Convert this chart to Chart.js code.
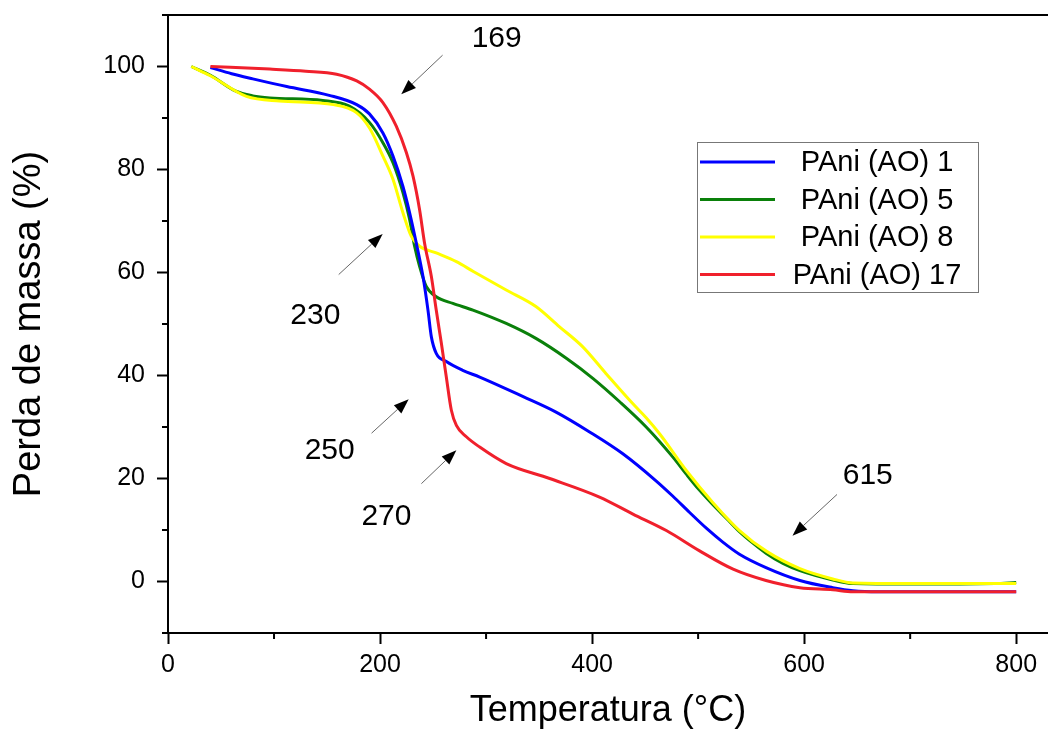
<!DOCTYPE html>
<html>
<head>
<meta charset="utf-8">
<script src="https://cdn.jsdelivr.net/npm/chart.js@4"></script>
<style>
  body { margin: 0; background: #fff; }
  canvas { display: block; }
</style>
</head>
<body>
<canvas id="tga" width="1048" height="729"></canvas>
<script>
// data (temperature °C, mass %)
const seriesNames = ["PAni (AO) 1", "PAni (AO) 5", "PAni (AO) 8", "PAni (AO) 17"];
const seriesColors = ["#0000ff", "#0a800a", "#ffff00", "#f0202c"];

const tempAO1 = [40, 60, 80, 112, 152, 178, 190, 202.7, 212.2, 221.6, 227.9, 234.2, 240.5, 245.2, 248.4, 253, 262.5, 278, 294, 335, 366, 398, 429, 460, 476, 492, 508, 523, 539, 564, 596, 627, 646, 670, 800];
const massAO1 = [99.8, 98.6, 97.6, 96.1, 94.4, 92.6, 90.8, 87.1, 82.6, 76.7, 71.6, 65.7, 59.2, 52.7, 47.5, 44.3, 42.7, 41.0, 39.7, 35.9, 32.9, 29.0, 24.8, 19.6, 16.6, 13.4, 10.3, 7.7, 5.3, 2.7, 0.2, -1.2, -1.8, -2.0, -2.0];

const tempAO5 = [22, 40, 64, 80, 96, 146, 171, 190.2, 202.7, 212.2, 221.6, 227.9, 232.6, 237.3, 243.6, 253, 268.7, 287.6, 319, 347, 376, 401, 426, 451, 476, 489, 501, 514, 527, 539, 552, 564, 580, 596, 627, 646, 700, 780, 800];
const massAO5 = [100, 98.3, 95.2, 94.3, 93.9, 93.4, 92.3, 89.1, 85.2, 81.3, 75.5, 70.3, 65.1, 61.2, 57.3, 55.3, 54.0, 52.7, 50.1, 47.2, 43.3, 39.4, 34.9, 30.0, 24.2, 20.8, 17.8, 14.9, 12.2, 9.7, 7.4, 5.5, 3.5, 2.1, 0.3, -0.4, -0.5, -0.4, -0.2];

const tempAO8 = [22, 40, 74, 105, 156, 178, 190.2, 202.7, 212.2, 221.6, 229.5, 237.3, 253, 272, 288, 319, 347, 369, 391, 413, 438.5, 451, 464, 489, 514, 539, 565, 596, 627, 646, 700, 800];
const massAO8 = [100, 98.2, 94.2, 93.3, 92.6, 91.0, 88.0, 82.6, 78.1, 71.6, 67.0, 65.1, 63.8, 62.1, 60.2, 56.6, 53.4, 49.5, 45.6, 40.4, 34.5, 31.8, 28.6, 21.5, 15.3, 9.9, 5.8, 2.5, 0.5, -0.3, -0.4, -0.4];

const tempAO17 = [40, 96, 130, 159, 178, 190, 202.7, 215.3, 224.8, 231.1, 237.3, 242, 248.4, 253, 257.8, 262.5, 267.2, 272, 281.4, 294, 319, 360, 407, 438.5, 470, 501, 533, 564, 596, 627, 646, 800];
const massAO17 = [100, 99.5, 99.1, 98.5, 97.2, 95.6, 93.0, 88.4, 83.3, 78.7, 72.2, 65.7, 59.2, 52.7, 46.3, 39.7, 33.3, 30.3, 28.1, 26.1, 22.9, 20.0, 16.4, 13.1, 9.9, 6.0, 2.4, 0.2, -1.2, -1.6, -2.0, -2.0];

const xTicks = [0, 200, 400, 600, 800];
const xMinor = [100, 300, 500, 700];
const yTicks = [0, 20, 40, 60, 80, 100];
const yMinor = [-10, 10, 30, 50, 70, 90, 110];

// arrows: label, text position, arrow tail, arrow tip (data units)
const notes = [
  { text: "169", at: [310, 105.3], from: [259, 102.2], to: [220, 94.6] },
  { text: "230", at: [139, 51.6], from: [161, 59.6], to: [202.5, 67.5] },
  { text: "250", at: [152.5, 25.3], from: [192, 28.8], to: [227, 35.4] },
  { text: "270", at: [206, 12.6], from: [239, 19.0], to: [272, 25.5] },
  { text: "615", at: [660, 20.6], from: [631, 16.9], to: [589, 8.9] }
];

const FONT = "'Liberation Sans', Arial, sans-serif";

function toPoints(t, m) {
  return t.map((v, i) => ({ x: v, y: m[i] }));
}

// lower order is drawn on top: red, blue, yellow, green
const datasets = [
  { label: seriesNames[0], data: toPoints(tempAO1, massAO1), borderColor: seriesColors[0], order: 1 },
  { label: seriesNames[1], data: toPoints(tempAO5, massAO5), borderColor: seriesColors[1], order: 3 },
  { label: seriesNames[2], data: toPoints(tempAO8, massAO8), borderColor: seriesColors[2], order: 2 },
  { label: seriesNames[3], data: toPoints(tempAO17, massAO17), borderColor: seriesColors[3], order: 0 }
];

// frame top line, minor ticks, arrows and boxed legend
const extras = {
  id: "extras",
  afterDraw(chart) {
    const c = chart.ctx;
    const a = chart.chartArea;
    const xs = chart.scales.x;
    const ys = chart.scales.y;

    c.save();
    c.strokeStyle = "#000";
    c.lineWidth = 2;
    c.beginPath();
    c.moveTo(a.left, a.top);
    c.lineTo(a.right, a.top);
    yMinor.forEach(v => {
      const y = ys.getPixelForValue(v);
      c.moveTo(a.left - 6, y);
      c.lineTo(a.left, y);
    });
    xMinor.forEach(v => {
      const x = xs.getPixelForValue(v);
      c.moveTo(x, a.bottom);
      c.lineTo(x, a.bottom + 6);
    });
    c.stroke();

    // annotations
    c.font = "30px " + FONT;
    c.fillStyle = "#000";
    c.textAlign = "center";
    c.textBaseline = "middle";
    notes.forEach(n => {
      c.fillText(n.text, xs.getPixelForValue(n.at[0]), ys.getPixelForValue(n.at[1]));
      const x0 = xs.getPixelForValue(n.from[0]), y0 = ys.getPixelForValue(n.from[1]);
      const x1 = xs.getPixelForValue(n.to[0]), y1 = ys.getPixelForValue(n.to[1]);
      const ang = Math.atan2(y1 - y0, x1 - x0);
      const len = 15, half = 5.5;
      c.strokeStyle = "#666";
      c.lineWidth = 1;
      c.beginPath();
      c.moveTo(x0, y0);
      c.lineTo(x1 - Math.cos(ang) * len, y1 - Math.sin(ang) * len);
      c.stroke();
      c.beginPath();
      c.moveTo(x1, y1);
      c.lineTo(x1 - Math.cos(ang) * len - Math.sin(ang) * half, y1 - Math.sin(ang) * len + Math.cos(ang) * half);
      c.lineTo(x1 - Math.cos(ang) * len + Math.sin(ang) * half, y1 - Math.sin(ang) * len - Math.cos(ang) * half);
      c.closePath();
      c.fill();
    });

    // legend
    c.strokeStyle = "#777";
    c.lineWidth = 1;
    c.strokeRect(697.5, 142.5, 281, 150);
    c.font = "29px " + FONT;
    chart.data.datasets.forEach((ds, i) => {
      const y = 162 + i * 37.5;
      c.strokeStyle = ds.borderColor;
      c.lineWidth = 3;
      c.beginPath();
      c.moveTo(700, y);
      c.lineTo(775, y);
      c.stroke();
      c.fillStyle = "#000";
      c.fillText(ds.label, 877, y + 1);
    });
    c.restore();
  }
};

new Chart(document.getElementById("tga"), {
  type: "line",
  data: { datasets: datasets },
  options: {
    responsive: false,
    animation: false,
    layout: { padding: { top: 15, right: 0, left: 0, bottom: 0 } },
    plugins: { legend: { display: false }, tooltip: { enabled: false } },
    elements: {
      point: { radius: 0 },
      line: { borderWidth: 3, cubicInterpolationMode: "monotone", fill: false }
    },
    scales: {
      x: {
        type: "linear",
        min: 0,
        max: 830,
        afterBuildTicks: s => { s.ticks = xTicks.map(v => ({ value: v })); },
        afterFit: s => { s.height = 96; s.paddingLeft = 0; s.paddingRight = 0; },
        grid: { drawOnChartArea: false, tickLength: 11, tickWidth: 2, tickColor: "#000" },
        border: { color: "#000", width: 2 },
        ticks: { color: "#000", font: { family: FONT, size: 25 }, padding: 6, maxRotation: 0 },
        title: {
          display: true,
          text: "Temperatura (°C)",
          color: "#000",
          font: { family: FONT, size: 36, lineHeight: 1 },
          padding: { top: 0, bottom: 0 }
        }
      },
      y: {
        min: -10,
        max: 110,
        afterBuildTicks: s => { s.ticks = yTicks.map(v => ({ value: v })); },
        afterFit: s => { s.width = 168; s.paddingTop = 0; s.paddingBottom = 0; },
        grid: { drawOnChartArea: false, tickLength: 11, tickWidth: 2, tickColor: "#000" },
        border: { color: "#000", width: 2 },
        ticks: { color: "#000", font: { family: FONT, size: 25 }, padding: 12 },
        title: {
          display: true,
          text: "Perda de massa (%)",
          color: "#000",
          font: { family: FONT, size: 38, lineHeight: 1 },
          padding: { top: 11, bottom: 0 }
        }
      }
    }
  },
  plugins: [extras]
});
</script>
</body>
</html>
